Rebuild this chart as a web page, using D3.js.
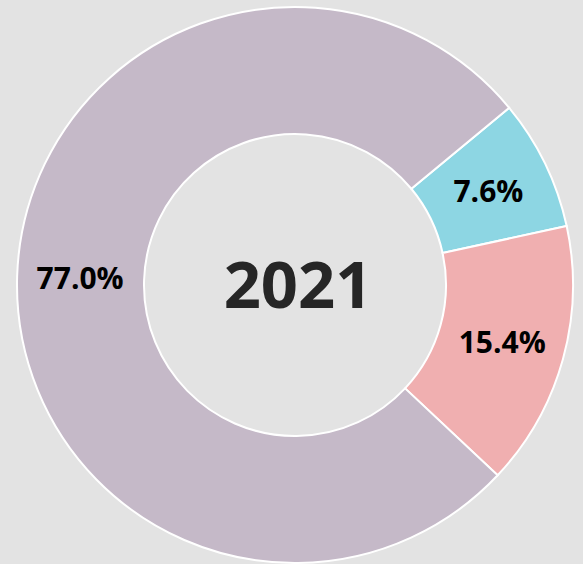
<!DOCTYPE html>
<html>
<head>
<meta charset="utf-8">
<script src="https://cdn.jsdelivr.net/npm/d3@7"></script>
<style>
  html, body { margin: 0; padding: 0; background: #e3e3e3; }
  svg { display: block; }
</style>
</head>
<body>
<main></main>
<script>
const width = 583;
const height = 564;
const cx = 295;
const cy = 285;
const outerR = 278;
const innerR = 151;

// data
const categories = ['A', 'B', 'C'];
const values = [7.6, 15.4, 77.0];
const labels = ['7.6%', '15.4%', '77.0%'];
const colors = ['#8dd6e3', '#f0afb0', '#c5b9c8'];
const centerTitle = '2021';

const data = categories.map((c, i) => ({ category: c, value: values[i], label: labels[i] }));

const createSvg = () => {
    return d3.select('main')
             .append('svg')
             .attr('width', width)
             .attr('height', height)
             .style('background', '#e3e3e3');
};

const svg = createSvg();
const g = svg.append('g').attr('transform', `translate(${cx},${cy})`);

const start = 50.4 * Math.PI / 180;
const pie = d3.pie()
              .value(d => d.value)
              .sort(null)
              .startAngle(start)
              .endAngle(start + 2 * Math.PI);

const arc = d3.arc().innerRadius(innerR).outerRadius(outerR);
const labelArc = d3.arc().innerRadius(215).outerRadius(215);

const color = d3.scaleOrdinal().domain(categories).range(colors);

g.selectAll('path')
 .data(pie(data))
 .enter()
 .append('path')
 .attr('d', arc)
 .attr('fill', d => color(d.data.category))
 .attr('stroke', '#ffffff')
 .attr('stroke-width', 2);

g.selectAll('text.label')
 .data(pie(data))
 .enter()
 .append('text')
 .attr('class', 'label')
 .attr('transform', d => `translate(${labelArc.centroid(d)})`)
 .attr('text-anchor', 'middle')
 .attr('dy', '0.35em')
 .style('font-family', '"Open Sans", sans-serif')
 .style('font-weight', 700)
 .style('font-size', '30px')
 .attr('fill', '#000000')
 .text(d => d.data.label);

g.append('text')
 .attr('x', 3)
 .attr('y', 0)
 .attr('text-anchor', 'middle')
 .attr('dy', '0.35em')
 .style('font-family', '"Open Sans", sans-serif')
 .style('font-weight', 700)
 .style('font-size', '65px')
 .attr('fill', '#262626')
 .text(centerTitle);
</script>
</body>
</html>
